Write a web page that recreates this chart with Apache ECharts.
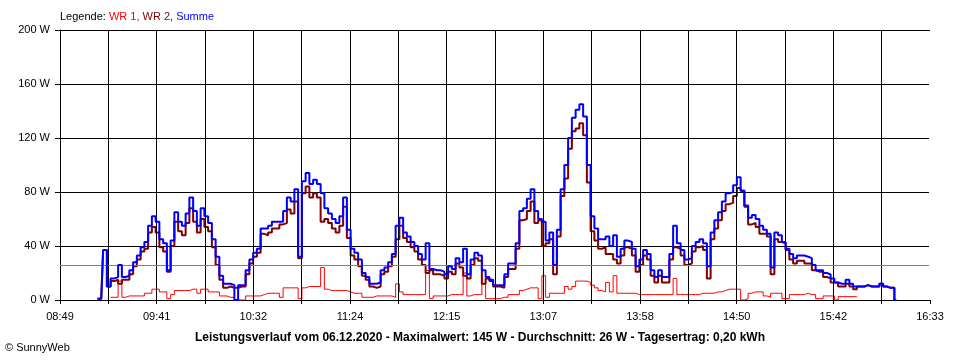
<!DOCTYPE html>
<html>
<head>
<meta charset="utf-8">
<script src="https://cdn.jsdelivr.net/npm/echarts@6/dist/echarts.min.js"></script>
<style>html,body{margin:0;padding:0;background:#fff}#c{width:960px;height:360px}</style>
</head>
<body>
<div id="c"></div>
<script>
// ---- data ----
const axisStart = '08:49';
const axisEnd = '16:33';
const tickLabels = ['08:49','09:41','10:32','11:24','12:15','13:07','13:58','14:50','15:42','16:33'];
const yTicks = [0, 40, 80, 120, 160, 200];
const sampleStart = '09:09';
const sampleStepMin = 2;
const avgValue = 26;
const seriesNames = ['WR 1', 'WR 2', 'Summe'];
const titleText = 'Leistungsverlauf vom 06.12.2020 - Maximalwert: 145 W - Durchschnitt: 26 W - Tagesertrag: 0,20 kWh';

const summe = [
  1,1,37,10,16,17,26,17,18,22,
  28,33,39,43,55,62,58,45,42,22,
  44,65,58,55,64,76,66,55,68,62,
  57,45,32,18,12,12,11,0,11,11,
  22,30,35,38,53,53,55,58,58,58,
  66,76,73,82,32,88,94,86,89,86,
  79,68,64,60,57,62,76,52,38,35,
  30,20,17,12,12,13,22,24,28,34,
  55,61,50,47,43,40,34,30,42,23,
  22,22,21,19,25,23,31,28,38,19,
  30,35,33,22,17,15,11,11,11,19,
  27,27,42,66,68,75,82,66,60,58,
  44,50,26,52,82,100,120,135,141,145,
  136,100,62,53,45,45,47,40,48,32,
  38,44,43,38,25,30,37,34,22,17,
  22,17,17,34,55,42,37,30,31,40,
  43,45,42,25,50,59,65,73,79,80,
  85,91,81,70,61,63,60,55,52,49,
  24,50,48,43,38,34,31,33,33,32,
  31,26,22,22,20,19,16,13,12,12,
  15,12,10,10,10,11,10,10,10,12,
  10,9,9,0
];
const wr1 = [
  null,null,null,null,2,2,14,2,3,3,
  3,3,3,5,5,8,8,6,6,1,
  4,7,7,7,7,8,8,5,8,8,
  6,6,6,3,3,2,2,0,0,0,
  3,3,3,3,4,5,5,5,5,2,
  9,9,9,9,1,9,10,10,10,10,
  24,8,7,7,7,7,7,6,5,5,
  5,2,2,2,3,3,3,3,3,2,
  12,6,4,4,4,4,4,4,22,1,
  3,3,3,3,4,4,4,4,20,3,
  4,4,4,12,1,1,1,1,2,2,
  4,4,4,7,8,9,9,9,1,18,
  2,5,5,5,5,10,8,10,14,14,
  14,13,11,9,7,6,13,6,18,5,
  5,5,5,5,4,4,4,4,4,4,
  4,4,4,4,16,4,4,4,4,4,
  4,5,5,5,5,6,6,7,8,8,
  8,8,0,1,5,6,6,6,3,2,
  5,5,5,1,1,4,4,4,4,5,
  4,4,1,1,3,3,3,0,2.5,2.5,
  2.5,2.5,2.5,null,null,null,null,null,null,null,
  null,null,null,null
];
const wr2 = [
  1,1,37,10,14,15,12,15,15,19,
  25,30,36,38,50,54,50,39,36,21,
  40,58,51,48,57,68,58,50,60,54,
  51,39,26,15,9,10,9,9,10,10,
  19,27,32,35,49,48,50,53,53,56,
  57,67,64,73,31,79,84,76,79,76,
  58,60,57,53,50,55,69,46,33,30,
  25,18,15,10,9,10,19,21,25,32,
  45,55,46,43,39,36,30,26,20,22,
  19,19,18,16,21,19,27,24,18,16,
  26,31,29,12,16,14,10,10,9,17,
  23,23,38,59,60,66,73,57,59,40,
  42,45,19,47,77,90,112,125,127,131,
  122,87,51,44,38,39,34,34,30,27,
  33,39,38,33,21,26,33,30,18,13,
  18,13,13,30,39,38,33,26,27,36,
  39,40,37,16,45,53,59,66,71,72,
  77,83,81,69,56,57,54,49,49,47,
  19,45,43,42,37,30,27,29,29,27,
  27,22,21,21,17,16,13,13,10,10,
  12,10,8,10,10,11,10,10,10,12,
  10,9,9,0
];

// ---- build ----
function toMin(s){ const p = s.split(':'); return (+p[0])*60 + (+p[1]); }
function gcd(a, b){ return b ? gcd(b, a % b) : a; }
const x0 = toMin(axisStart);
const spanMin = toMin(axisEnd) - x0;                 // 464 minutes
const nIntervals = (tickLabels.length - 1) * 2;      // 18 grid steps
const unitsPerMin = nIntervals / gcd(spanMin, nIntervals); // integer axis units
const xMax = spanMin * unitsPerMin;
const xInterval = xMax / nIntervals;
const s0 = toMin(sampleStart) - x0;
function pairs(arr){ return arr.map((v, i) => [(s0 + i * sampleStepMin) * unitsPerMin, v]); }

const vGrid = [];
for (let k = 1; k < nIntervals; k++) {
  vGrid.push({xAxis: k * xInterval, lineStyle: {color: '#000', width: 1, type: 'solid'}});
}

const FONT = '"Liberation Sans", Arial, sans-serif';
const GRID = {left: 60, right: 30, top: 30, bottom: 60};
const chart = echarts.init(document.getElementById('c'), null, {renderer: 'canvas'});
const baseSeries = {
  type: 'line', step: 'middle', showSymbol: false, symbol: 'none',
  animation: false, connectNulls: false
};
const rs = (c) => ({color: c, fontSize: 11, fontFamily: FONT, fontWeight: 'normal'});
chart.setOption({
  animation: false,
  backgroundColor: '#fff',
  title: {
    text: '{k|Legende: }{r|' + seriesNames[0] + ', }{d|' + seriesNames[1] + ', }{b|' + seriesNames[2] + '}',
    left: 60, top: 11, padding: 0,
    textStyle: {
      fontSize: 11, fontFamily: FONT, fontWeight: 'normal',
      rich: {k: rs('#000'), r: rs('#ff0000'), d: rs('#800000'), b: rs('#0000ff')}
    }
  },
  graphic: [
    {type: 'text', left: 'center', top: 332, style: {text: titleText, font: 'bold 12px ' + FONT, fill: '#000'}},
    {type: 'text', left: 5, top: 342, style: {text: '\u00A9 SunnyWeb', font: '11px ' + FONT, fill: '#000'}},
    // open right side of the plot frame (reference has no right border)
    {type: 'rect', z: 200, silent: true,
     shape: {x: 960 - GRID.right - 1, y: GRID.top + 1, width: 2, height: 360 - GRID.top - GRID.bottom - 2},
     style: {fill: '#fff'}}
  ],
  grid: Object.assign({containLabel: false}, GRID),
  xAxis: {
    type: 'value', min: 0, max: xMax, interval: xInterval,
    axisLine: {show: true, lineStyle: {color: '#000', width: 1}},
    axisTick: {show: true, length: 4, lineStyle: {color: '#000'}},
    axisLabel: {
      color: '#000', fontSize: 11, fontFamily: FONT, margin: 11,
      showMinLabel: true, showMaxLabel: true,
      formatter: function (v) {
        const k = Math.round(v / xInterval);
        return k % 2 === 0 ? tickLabels[k / 2] : '';
      }
    },
    splitLine: {show: false}
  },
  yAxis: {
    type: 'value', min: yTicks[0], max: yTicks[yTicks.length - 1], interval: yTicks[1] - yTicks[0],
    axisLine: {show: true, lineStyle: {color: '#000', width: 1}},
    axisTick: {show: true, length: 5, lineStyle: {color: '#000'}},
    axisLabel: {color: '#000', fontSize: 11, fontFamily: FONT, margin: 10, formatter: '{value} W'},
    splitLine: {show: true, showMinLine: false, showMaxLine: true, lineStyle: {color: '#000', width: 1}}
  },
  series: [
    Object.assign({}, baseSeries, {
      name: seriesNames[0], data: pairs(wr1), z: 3,
      lineStyle: {color: '#ff0000', width: 1}, itemStyle: {color: '#ff0000'},
      markLine: {
        silent: true, symbol: 'none', animation: false, precision: 4,
        label: {show: false},
        lineStyle: {color: '#808080', width: 1, type: 'solid'},
        data: vGrid.concat([{yAxis: avgValue, lineStyle: {color: '#808080', width: 1, type: 'solid'}}])
      }
    }),
    Object.assign({}, baseSeries, {
      name: seriesNames[1], data: pairs(wr2), z: 4,
      lineStyle: {color: '#800000', width: 2}, itemStyle: {color: '#800000'}
    }),
    Object.assign({}, baseSeries, {
      name: seriesNames[2], data: pairs(summe), z: 5,
      lineStyle: {color: '#0000ff', width: 2}, itemStyle: {color: '#0000ff'}
    })
  ]
});
</script>
</body>
</html>
